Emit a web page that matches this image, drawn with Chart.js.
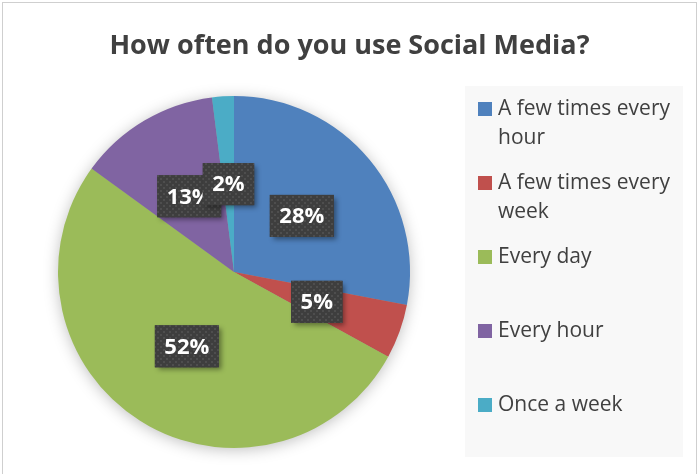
<!DOCTYPE html>
<html>
<head>
<meta charset="utf-8">
<style>
  html, body { margin: 0; padding: 0; background: #ffffff; }
  #c { display: block; }
</style>
<script src="https://cdn.jsdelivr.net/npm/chart.js@4.4.0/dist/chart.umd.min.js"></script>
</head>
<body>
<canvas id="c" width="699" height="474"></canvas>
<script>
// Survey: how often respondents use social media (share of answers, %)
const chartTitle = 'How often do you use Social Media?';
const categories = [
  'A few times every hour',
  'A few times every week',
  'Every day',
  'Every hour',
  'Once a week'
];
const shares = [28, 5, 52, 13, 2];
const sliceColors = ['#4F81BD', '#C0504D', '#9BBB59', '#8064A2', '#4BACC6'];

const FONT = "'Open Sans', 'Noto Sans', sans-serif";
const TEXT_COLOR = '#404040';

// Dotted dark fill used behind the percentage labels
function makeDotPattern(ctx) {
  const tile = document.createElement('canvas');
  tile.width = 6; tile.height = 6;
  const t = tile.getContext('2d');
  t.fillStyle = '#3e3e3e';
  t.fillRect(0, 0, 6, 6);
  t.fillStyle = '#4e4e4e';
  t.fillRect(1, 1, 2, 2);
  t.fillRect(4, 4, 2, 2);
  return ctx.createPattern(tile, 'repeat');
}

// White page with a thin grey frame
const framePlugin = {
  id: 'frame',
  beforeDraw(chart) {
    const ctx = chart.ctx;
    ctx.save();
    ctx.fillStyle = '#ffffff';
    ctx.fillRect(0, 0, chart.width, chart.height);
    ctx.strokeStyle = '#cfcfcf';
    ctx.lineWidth = 1;
    ctx.strokeRect(2.5, 2.5, chart.width - 5, chart.height + 10);
    ctx.restore();
  }
};

// Heading centred across the top
const headingPlugin = {
  id: 'heading',
  afterDraw(chart) {
    const ctx = chart.ctx;
    ctx.save();
    ctx.font = 'bold 27px ' + FONT;
    ctx.fillStyle = TEXT_COLOR;
    ctx.textAlign = 'center';
    ctx.textBaseline = 'alphabetic';
    ctx.fillText(chartTitle, chart.width / 2, 54);
    ctx.restore();
  }
};

// Soft shadow under the whole pie
const pieShadowPlugin = {
  id: 'pieShadow',
  beforeDatasetsDraw(chart) {
    const arc = chart.getDatasetMeta(0).data[0];
    if (!arc) return;
    const ctx = chart.ctx;
    ctx.save();
    ctx.shadowColor = 'rgba(0,0,0,0.28)';
    ctx.shadowBlur = 16;
    ctx.shadowOffsetY = 2;
    ctx.fillStyle = '#9a9a9a';
    ctx.beginPath();
    ctx.arc(arc.x, arc.y, arc.outerRadius - 1, 0, Math.PI * 2);
    ctx.fill();
    ctx.restore();
  }
};

// Percentage labels in dark boxes at each slice's centroid
const valueLabelPlugin = {
  id: 'valueLabels',
  afterDatasetsDraw(chart) {
    const ctx = chart.ctx;
    const meta = chart.getDatasetMeta(0);
    const pattern = makeDotPattern(ctx);
    ctx.save();
    ctx.font = 'bold 22px ' + FONT;
    ctx.textAlign = 'center';
    ctx.textBaseline = 'middle';
    meta.data.forEach((arc, i) => {
      const p = arc.tooltipPosition();
      const text = shares[i] + '%';
      const w = ctx.measureText(text).width + 19;
      const h = 42;
      const x = p.x - w / 2, y = p.y - h / 2;
      ctx.save();
      ctx.shadowColor = 'rgba(0,0,0,0.4)';
      ctx.shadowBlur = 5;
      ctx.shadowOffsetX = 3;
      ctx.shadowOffsetY = 3;
      ctx.fillStyle = '#3e3e3e';
      ctx.fillRect(x, y, w, h);
      ctx.restore();
      ctx.fillStyle = pattern;
      ctx.fillRect(x, y, w, h);
      ctx.fillStyle = '#ffffff';
      ctx.fillText(text, p.x, p.y + 1);
    });
    ctx.restore();
  }
};

// Legend panel on the right, with wrapped category names
const legendPanelPlugin = {
  id: 'legendPanel',
  afterDraw(chart) {
    const ctx = chart.ctx;
    const box = { x: 465, y: 86, w: 218, h: 371 };
    ctx.save();
    ctx.fillStyle = '#f8f8f8';
    ctx.fillRect(box.x, box.y, box.w, box.h);
    ctx.font = '21px ' + FONT;
    ctx.textAlign = 'left';
    ctx.textBaseline = 'middle';
    const maxW = 183;
    const step = 74, lineH = 29;
    categories.forEach((name, i) => {
      const cy = 109 + i * step;
      ctx.fillStyle = sliceColors[i];
      ctx.fillRect(478, cy - 7, 14, 14);
      const words = name.split(' ');
      const lines = [];
      let cur = '';
      words.forEach(wd => {
        const test = cur ? cur + ' ' + wd : wd;
        if (cur && ctx.measureText(test).width > maxW) { lines.push(cur); cur = wd; }
        else cur = test;
      });
      if (cur) lines.push(cur);
      ctx.fillStyle = TEXT_COLOR;
      lines.forEach((ln, k) => ctx.fillText(ln, 498, cy + k * lineH));
    });
    ctx.restore();
  }
};

new Chart(document.getElementById('c'), {
  type: 'pie',
  data: {
    labels: categories,
    datasets: [{
      data: shares,
      backgroundColor: sliceColors,
      borderWidth: 0,
      hoverOffset: 0,
      offset: 0
    }]
  },
  options: {
    responsive: false,
    devicePixelRatio: 1,
    animation: false,
    events: [],
    layout: { padding: { left: 58, top: 96, right: 289, bottom: 26 } },
    plugins: {
      legend: { display: false },
      title: { display: false },
      tooltip: { enabled: false }
    }
  },
  plugins: [framePlugin, pieShadowPlugin, valueLabelPlugin, headingPlugin, legendPanelPlugin]
});
</script>
</body>
</html>
